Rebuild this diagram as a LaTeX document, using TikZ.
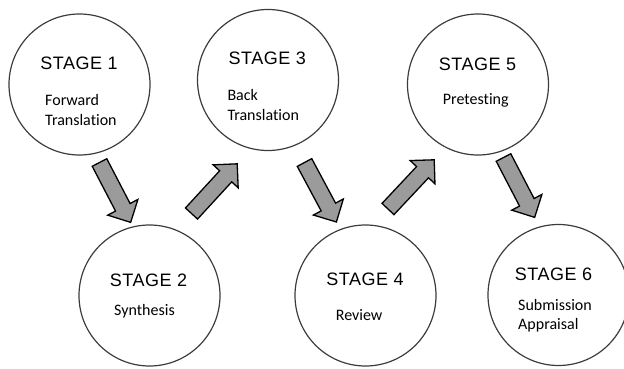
\documentclass[tikz,border=0pt]{standalone}
\usepackage{fontspec}
\setmainfont[Ligatures={NoCommon}]{Carlito}
\newfontfamily\stagefont[LetterSpace=3]{Liberation Sans}
\begin{document}
\begin{tikzpicture}[x=1pt,y=-1pt,
  stagecircle/.style={circle, draw={rgb,255:red,60;green,60;blue,60}, line width=1.2pt, minimum size=141pt, inner sep=0pt},
  stagelbl/.style={font=\stagefont\fontsize{18}{20}\selectfont, inner sep=0pt, anchor=base},
  sublbl/.style={font=\fontsize{16}{19}\selectfont, inner sep=0pt, anchor=base west},
  arrowbody/.style={draw=black, line width=1.3pt, line join=miter, fill={rgb,255:red,155;green,155;blue,155}},
  blockarrow/.pic={\draw[arrowbody] (0,-8.2) -- (50.5,-8.2) -- (50.5,-17) -- (67.5,0) -- (50.5,17) -- (50.5,8.2) -- (0,8.2) -- cycle;}
]
\clip (0,0) rectangle (624,368);
\node[stagecircle] (s1) at (79.5,84.5) {};
\node[stagecircle] (s2) at (149.5,295.5) {};
\node[stagecircle] (s3) at (268,80) {};
\node[stagecircle] (s4) at (365.5,295.5) {};
\node[stagecircle] (s5) at (478,84.5) {};
\node[stagecircle] (s6) at (558.5,295) {};

\node[stagelbl] (t1) at (79,69.3) {STAGE 1};
\node[sublbl] (f1a) at (45,105) {Forward};
\node[sublbl] (f1b) at (45,125.5) {Translation};

\node[stagelbl] (t3) at (267.3,64) {STAGE 3};
\node[sublbl] (f3a) at (227.3,100) {Back};
\node[sublbl] (f3b) at (227.3,120.5) {Translation};

\node[stagelbl] (t5) at (477.5,70) {STAGE 5};
\node[sublbl] (f5a) at (442.7,104.3) {Pretesting};

\node[stagelbl] (t2) at (148.5,286) {STAGE 2};
\node[sublbl] (f2a) at (114,315) {Synthesis};

\node[stagelbl] (t4) at (365,285) {STAGE 4};
\node[sublbl] (f4a) at (335.7,320.7) {Review};

\node[stagelbl] (t6) at (553.5,280) {STAGE 6};
\node[sublbl] (f6a) at (518,310) {Submission};
\node[sublbl] (f6b) at (518,329.5) {Appraisal};

\coordinate (a12) at (99.5,162.5);
\coordinate (a23) at (191.5,213.5);
\coordinate (a34) at (304.5,162.5);
\coordinate (a45) at (388,209);
\coordinate (a56) at (503.5,157.5);
\pic[rotate=-62.5] at (a12) {blockarrow};
\pic[rotate=47.4] at (a23) {blockarrow};
\pic[rotate=-61.8] at (a34) {blockarrow};
\pic[rotate=46.8] at (a45) {blockarrow};
\pic[rotate=-62.5] at (a56) {blockarrow};
\end{tikzpicture}
\end{document}
